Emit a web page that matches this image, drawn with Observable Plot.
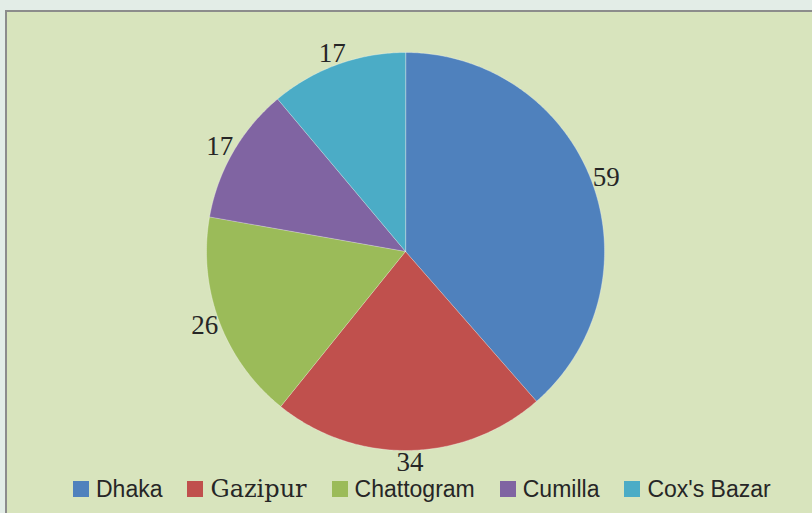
<!DOCTYPE html>
<html>
<head>
<meta charset="utf-8">
<script src="https://cdn.jsdelivr.net/npm/d3@7"></script>
<script src="https://cdn.jsdelivr.net/npm/@observablehq/plot@0.6"></script>
<style>
  body { margin:0; width:812px; height:513px; overflow:hidden; background:#e3ede7; position:relative; }
  #frame { position:absolute; left:5px; top:10px; width:900px; height:600px; border:2px solid #8c8c8c; background:#d8e4bd; }
  #chart { position:absolute; left:0; top:0; }
  #legend { position:absolute; left:73px; top:477px; display:flex; align-items:center; gap:25px; color:#262626; font-family:"Liberation Sans", sans-serif; font-size:23px; line-height:1; white-space:nowrap; }
  .item { display:flex; align-items:center; gap:7px; }
  .sw { width:16px; height:16px; display:inline-block; }
</style>
</head>
<body>
<div id="frame"></div>
<div id="chart"></div>
<div id="legend"></div>
<script>
const names = ["Dhaka", "Gazipur", "Chattogram", "Cumilla", "Cox's Bazar"];
const values = [59, 34, 26, 17, 17];
const colors = ["#4f81bd", "#c0504d", "#9bbb59", "#8064a2", "#4bacc6"];

const R = 199;            // pie radius in pixels (x/y domain [-1, 1])
const labelFont = 27;
const arcs = d3.pie().sort(null).value(d => d)(values);
const wedges = [];
const labels = [];
arcs.forEach((a, i) => {
  wedges.push({name: names[i], x: 0, y: 0});
  const n = Math.max(2, Math.ceil((a.endAngle - a.startAngle) / 0.01));
  for (let k = 0; k <= n; k++) {
    const t = a.startAngle + (a.endAngle - a.startAngle) * k / n;
    wedges.push({name: names[i], x: Math.sin(t), y: Math.cos(t)});
  }
  // outside-end label: text box sits just outside the rim at the slice's mid-angle
  const m = (a.startAngle + a.endAngle) / 2;
  const txt = String(values[i]);
  const hw = (txt.length * 0.5 * labelFont) / 2 / R;
  const hh = (0.7 * labelFont) / 2 / R;
  const g = 1 + 2 / R;
  labels.push({value: values[i], x: g * Math.sin(m) + hw * Math.sin(m), y: g * Math.cos(m) + hh * Math.cos(m)});
});

const chart = Plot.plot({
  width: 812,
  height: 470,
  marginLeft: 206,
  marginRight: 208,
  marginTop: 52,
  marginBottom: 20,
  x: {domain: [-1, 1], axis: null},
  y: {domain: [-1, 1], axis: null},
  color: {domain: names, range: colors},
  style: {background: "transparent", overflow: "visible"},
  marks: [
    Plot.line(wedges, {x: "x", y: "y", z: "name", fill: "name", stroke: "#ffffff", strokeWidth: 0.6, strokeOpacity: 0.5, curve: "linear-closed"}),
    Plot.text(labels, {x: "x", y: "y", text: d => String(d.value), fontFamily: "Liberation Serif", fontSize: labelFont, fill: "#262626"})
  ]
});
document.getElementById("chart").appendChild(chart);

const legend = document.getElementById("legend");
names.forEach((n, i) => {
  const it = document.createElement("div");
  it.className = "item";
  const sw = document.createElement("span");
  sw.className = "sw";
  sw.style.background = colors[i];
  const tx = document.createElement("span");
  tx.textContent = n;
  if (n === "Gazipur") { tx.style.fontFamily = "DejaVu Serif"; tx.style.fontSize = "24px"; }
  it.appendChild(sw); it.appendChild(tx);
  legend.appendChild(it);
});
</script>
</body>
</html>
